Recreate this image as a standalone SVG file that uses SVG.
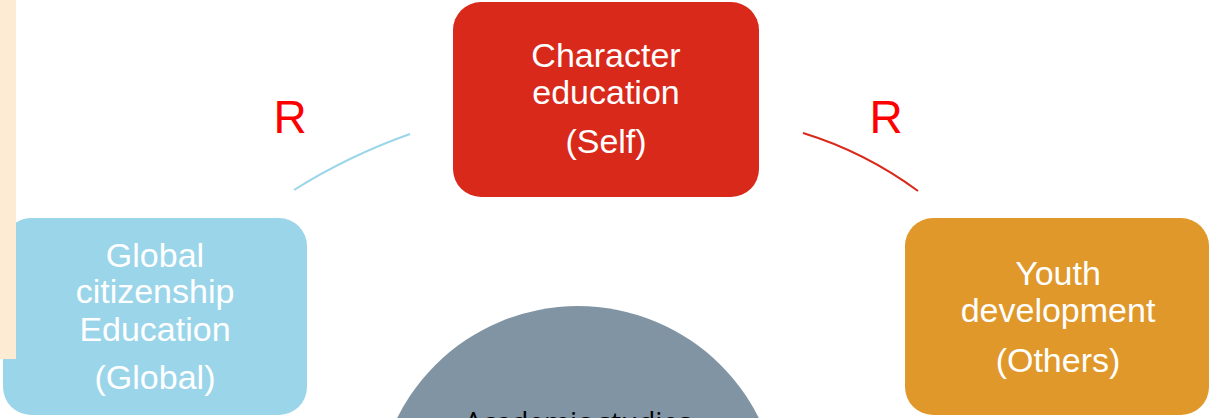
<svg xmlns="http://www.w3.org/2000/svg" width="1210" height="418" viewBox="0 0 1210 418">
<style>
.lbl{font-family:"Liberation Sans",Arial,sans-serif;font-size:34px;fill:#ffffff;text-anchor:middle}
.r{font-family:"Liberation Sans",Arial,sans-serif;font-size:46px;fill:#ff0000;text-anchor:middle}
.conn{fill:none;stroke-width:2}
</style>
<rect width="1210" height="418" fill="#ffffff"/>
<g id="node-academic">
<circle cx="578" cy="508" r="202" fill="#8194A3"/>
<text x="578" y="432" font-family="'Open Sans','Noto Sans',sans-serif" font-size="28" fill="#000000" text-anchor="middle">Academic studies</text>
</g>
<g id="node-global">
<rect x="3" y="218" width="304" height="197" rx="28" fill="#9BD5EA"/>
<text class="lbl" x="155" y="267">Global</text>
<text class="lbl" x="155" y="303">citizenship</text>
<text class="lbl" x="155" y="341">Education</text>
<text class="lbl" x="155" y="389">(Global)</text>
</g>
<rect x="0" y="0" width="16" height="359" fill="#FDEBD3"/>
<g id="node-character">
<rect x="453" y="2" width="306" height="195" rx="28" fill="#D9291B"/>
<text class="lbl" x="606" y="67">Character</text>
<text class="lbl" x="606" y="104">education</text>
<text class="lbl" x="606" y="153">(Self)</text>
</g>
<g id="node-youth">
<rect x="905" y="218" width="304" height="197" rx="28" fill="#E0982B"/>
<text class="lbl" x="1058" y="285">Youth</text>
<text class="lbl" x="1058" y="322">development</text>
<text class="lbl" x="1058" y="372">(Others)</text>
</g>
<g id="connectors">
<path class="conn" d="M294,190 Q348,156 410,134" stroke="#9BD5EA"/>
<path class="conn" d="M803,133 Q865,152 918,191" stroke="#D9291B"/>
<text class="r" x="290" y="133">R</text>
<text class="r" x="886" y="133">R</text>
</g>
</svg>
